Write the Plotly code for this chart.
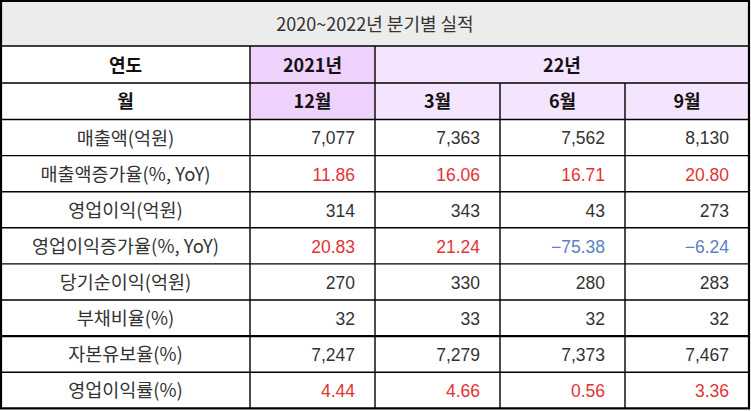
import plotly.graph_objects as go

# table content
title = "2020~2022년 분기별 실적"
head_year = ["연도", "2021년", "22년"]
head_month = ["월", "12월", "3월", "6월", "9월"]
row_labels = ["매출액(억원)", "매출액증가율(%, YoY)", "영업이익(억원)", "영업이익증가율(%, YoY)",
              "당기순이익(억원)", "부채비율(%)", "자본유보율(%)", "영업이익률(%)"]
sales = [7077, 7363, 7562, 8130]
sales_growth = [11.86, 16.06, 16.71, 20.80]
op_profit = [314, 343, 43, 273]
op_growth = [20.83, 21.24, -75.38, -6.24]
net_income = [270, 330, 280, 283]
debt_ratio = [32, 33, 32, 32]
reserve_ratio = [7247, 7279, 7373, 7467]
op_margin = [4.44, 4.66, 0.56, 3.36]

rows = [sales, sales_growth, op_profit, op_growth, net_income, debt_ratio, reserve_ratio, op_margin]
signed = [False, True, False, True, False, False, False, True]  # colour by sign

# layout geometry (pixels)
W, H = 751, 411
X0, Y0 = 1, 1
col_w = [249, 125, 125, 125, 124]
row_h = [45, 37, 36.5] + [36.1] * 8
DY = 2.5  # nudge text down, font sits high

xe = [X0]
for w in col_w:
    xe.append(xe[-1] + w)
ye = [Y0]
for h in row_h:
    ye.append(ye[-1] + h)

TXT = "#333333"
RED = "#e23434"
BLUE = "#5b80c2"
GRAY = "#ececec"
PURPLE_A = "#efd2fc"
PURPLE_B = "#f5e4fd"
FONT = "Noto Sans CJK KR"


def fmt(v):
    if isinstance(v, float):
        s = f"{abs(v):.2f}"
    else:
        s = f"{abs(v):,}"
    return ("−" + s) if v < 0 else s


shapes = []


def rect(x0, x1, y0, y1, color):
    shapes.append(dict(type="rect", xref="x", yref="y", x0=x0, x1=x1, y0=y0, y1=y1,
                       fillcolor=color, line=dict(width=0), layer="below"))


def line(x0, x1, y0, y1, w=1.4):
    shapes.append(dict(type="line", xref="x", yref="y", x0=x0, x1=x1, y0=y0, y1=y1,
                       line=dict(color="black", width=w)))


# fills
rect(xe[0], xe[-1], ye[0], ye[1], GRAY)
rect(xe[1], xe[2], ye[1], ye[3], PURPLE_A)
rect(xe[2], xe[-1], ye[1], ye[3], PURPLE_B)

# horizontal grid lines
for i in range(1, len(ye) - 1):
    line(xe[0], xe[-1], ye[i], ye[i], 2.2 if i == 9 else 1.4)
# vertical grid lines
line(xe[1], xe[1], ye[1], ye[-1])
line(xe[2], xe[2], ye[1], ye[-1])
for j in (3, 4):
    line(xe[j], xe[j], ye[2], ye[-1])
# outer border
shapes.append(dict(type="rect", xref="x", yref="y", x0=xe[0], x1=xe[-1], y0=ye[0], y1=ye[-1],
                   line=dict(color="black", width=2.2)))


def mid(a, b):
    return (a + b) / 2


fig = go.Figure()

# title
fig.add_trace(go.Scatter(x=[mid(xe[0], xe[-1])], y=[mid(ye[0], ye[1]) + DY], mode="text",
                         text=[title], textfont=dict(family=FONT, size=18, color=TXT),
                         hoverinfo="skip"))

# headers
hx = [mid(xe[0], xe[1]), mid(xe[1], xe[2]), mid(xe[2], xe[-1])]
hy = [mid(ye[1], ye[2]) + DY] * 3
mx = [mid(xe[k], xe[k + 1]) for k in range(5)]
my = [mid(ye[2], ye[3]) + DY] * 5
fig.add_trace(go.Scatter(x=hx + mx, y=hy + my, mode="text",
                         text=["<b>%s</b>" % t for t in head_year + head_month],
                         textfont=dict(family=FONT, size=18, color="#111111"),
                         hoverinfo="skip"))

# row labels
ly = [mid(ye[3 + r], ye[4 + r]) + DY for r in range(len(row_labels))]
fig.add_trace(go.Scatter(x=[mx[0]] * len(row_labels), y=ly, mode="text", text=row_labels,
                         textfont=dict(family=FONT, size=18.5, color=TXT), hoverinfo="skip"))

# values
vx, vy, vt, vc = [], [], [], []
for r, vals in enumerate(rows):
    for c, v in enumerate(vals):
        vx.append(xe[c + 2] - 20)
        vy.append(ly[r])
        vt.append(fmt(v))
        if signed[r]:
            vc.append(RED if v >= 0 else BLUE)
        else:
            vc.append(TXT)
fig.add_trace(go.Scatter(x=vx, y=vy, mode="text", text=vt, textposition="middle left",
                         textfont=dict(family="Liberation Sans", size=17.5, color=vc),
                         hoverinfo="skip"))

fig.update_layout(
    width=W, height=H,
    margin=dict(l=0, r=0, t=0, b=0),
    paper_bgcolor="white", plot_bgcolor="white",
    showlegend=False,
    shapes=shapes,
    xaxis=dict(range=[0, W], visible=False, fixedrange=True),
    yaxis=dict(range=[H, 0], visible=False, fixedrange=True),
)

fig.write_html("out.html", config={"displayModeBar": False},
               post_script="document.body.style.margin='0';")
